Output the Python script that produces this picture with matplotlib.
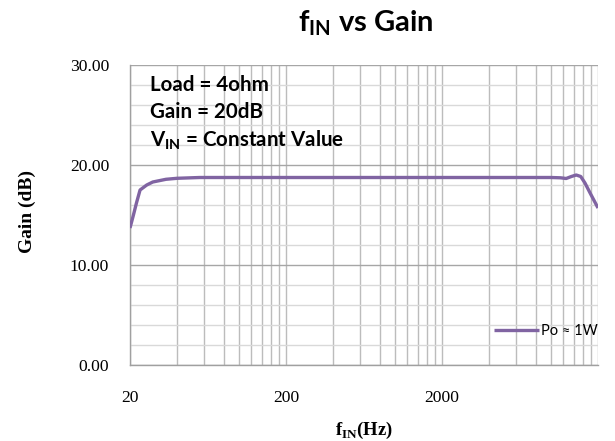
import matplotlib
matplotlib.use("Agg")
import matplotlib.pyplot as plt
from matplotlib.ticker import FixedLocator, NullFormatter, FormatStrFormatter

# frequency response at Po ~ 1W
freq_hz = [20, 21, 22, 23.2, 25.6, 28, 34, 40, 56, 80, 100, 200, 500, 1000, 2000,
           5000, 10000, 11500, 12500, 13500, 14500, 15500, 16500, 17800, 20000]
gain_db = [13.7, 14.95, 16.2, 17.5, 18.0, 18.3, 18.57, 18.67, 18.75, 18.75, 18.75,
           18.75, 18.75, 18.75, 18.75, 18.75, 18.75, 18.72, 18.65, 18.85, 19.0,
           18.85, 18.2, 17.2, 15.7]

x_major = [20, 200, 2000, 20000]
x_labels = ["20", "200", "2000", ""]
x_minor = [20 * k * 10 ** n for n in range(3) for k in range(2, 10)]
y_major = [0, 10, 20, 30]
y_minor = [2, 4, 6, 8, 12, 14, 16, 18, 22, 24, 26, 28]

serif = "Liberation Serif"
sans = ["Lato", "DejaVu Sans"]
purple = "#8064a2"

fig = plt.figure(figsize=(6.15, 4.41), dpi=100)
ax = fig.add_axes([130 / 615, 76 / 441, 468 / 615, 300 / 441])

ax.plot(freq_hz, gain_db, color=purple, lw=2.4, solid_capstyle="butt",
        solid_joinstyle="round", label="Po ≈ 1W", zorder=3)

ax.set_xscale("log")
ax.set_xlim(20, 20000)
ax.set_ylim(0, 30)
ax.xaxis.set_major_locator(FixedLocator(x_major))
ax.xaxis.set_minor_locator(FixedLocator(x_minor))
ax.xaxis.set_minor_formatter(NullFormatter())
ax.set_xticklabels(x_labels)
ax.yaxis.set_major_locator(FixedLocator(y_major))
ax.yaxis.set_minor_locator(FixedLocator(y_minor))
ax.yaxis.set_major_formatter(FormatStrFormatter("%.2f"))

ax.grid(which="major", axis="y", color="#a6a6a6", lw=1.0)
ax.grid(which="minor", axis="y", color="#d9d9d9", lw=1.0)
ax.grid(which="both", axis="x", color="#bcbcbc", lw=1.0)
ax.set_axisbelow(True)

for side in ["top", "right"]:
    ax.spines[side].set_visible(False)
for side in ["left", "bottom"]:
    ax.spines[side].set_color("#a0a0a0")
    ax.spines[side].set_linewidth(1.0)

ax.tick_params(which="both", length=0)
ax.tick_params(axis="y", pad=15, labelsize=12.6)
ax.tick_params(axis="x", pad=18, labelsize=12.6)
for lbl in ax.get_xticklabels() + ax.get_yticklabels():
    lbl.set_fontfamily(serif)

ax.set_xlabel(r"f$_{\mathregular{IN}}$(Hz)", fontfamily=serif, fontweight="bold",
              fontsize=13.5, labelpad=10)
ax.set_ylabel("Gain (dB)", fontfamily=serif, fontweight="bold", fontsize=14)
ax.yaxis.set_label_coords(-0.201, 0.512)

fig.text(366 / 615, 1 - 23 / 441, r"f$_{\mathregular{IN}}$ vs Gain", ha="center",
         va="center", fontfamily=sans, fontweight="bold", fontsize=21)

notes = ["Load = 4ohm", "Gain = 20dB", r"V$_{\mathregular{IN}}$ = Constant Value"]
for i, note in enumerate(notes):
    fig.text(150 / 615, 1 - (85 + 27.5 * i) / 441, note, ha="left", va="center",
             fontfamily=sans, fontweight="bold", fontsize=14.8)

leg = ax.legend(loc="center right", bbox_to_anchor=(1.0, 0.113), frameon=False,
                handlelength=3.1, handletextpad=0.1, borderaxespad=0, borderpad=0.05,
                prop={"family": sans, "size": 10.5})

fig.savefig("out.png", dpi=100)
